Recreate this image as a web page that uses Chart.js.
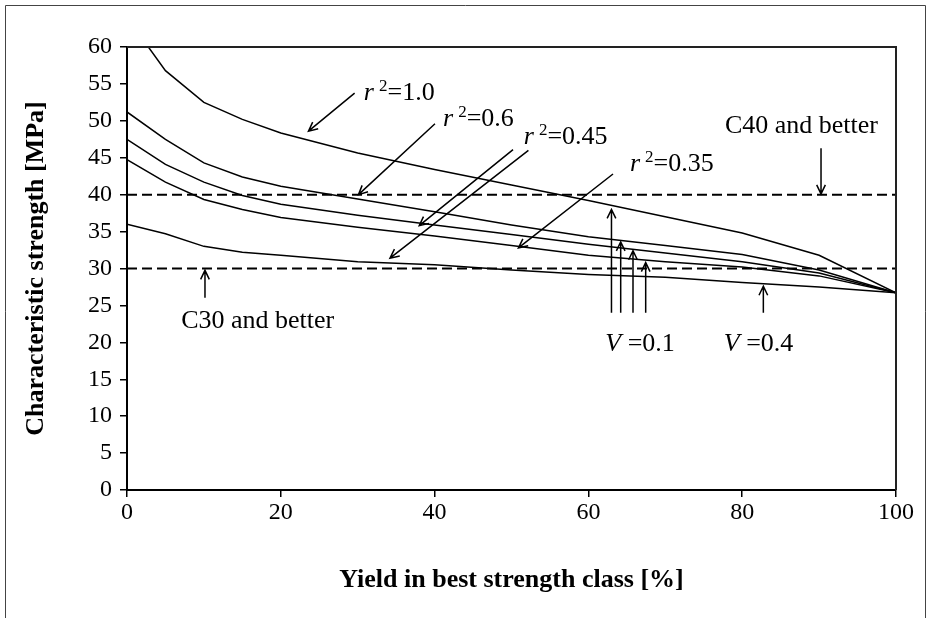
<!DOCTYPE html>
<html>
<head>
<meta charset="utf-8">
<script src="https://cdn.jsdelivr.net/npm/chart.js@4.4.1/dist/chart.umd.min.js"></script>
<style>
  html, body { margin: 0; padding: 0; background: #fff; }
</style>
</head>
<body>
<canvas id="strength-chart" width="931" height="618"></canvas>
<script>
// yield in best strength class [%]
const YIELD = [0, 5, 10, 15, 20, 30, 40, 50, 60, 70, 80, 90, 100];
// characteristic strength [MPa], V = 0.1 for the r^2 curves
const R2_100 = [64.0, 56.8, 52.5, 50.2, 48.35, 45.65, 43.4, 41.3, 39.2, 37.0, 34.8, 31.8, 26.7];
const R2_060 = [51.2, 47.5, 44.3, 42.4, 41.15, 39.4, 37.7, 35.9, 34.3, 33.1, 31.9, 29.8, 26.7];
const R2_045 = [47.5, 44.1, 41.7, 39.9, 38.7, 37.2, 35.9, 34.6, 33.3, 32.1, 30.9, 29.4, 26.7];
const R2_035 = [44.75, 41.7, 39.35, 38.0, 36.9, 35.6, 34.4, 33.1, 31.8, 30.9, 30.2, 29.0, 26.7];
const V_040 = [36.0, 34.7, 33.0, 32.2, 31.8, 30.9, 30.5, 29.8, 29.2, 28.8, 28.1, 27.5, 26.7];

// strength class limits
const LIMIT_X = [0, 100];
const C40 = [40, 40];
const C30 = [30, 30];

// annotation arrows, tail -> tip, in data units
const ARROWS = [
  [29.6, 53.75, 23.6, 48.6],   // r2=1.0
  [40.05, 49.6, 30.1, 40.0],   // r2=0.6
  [50.2, 46.1, 38.0, 35.8],    // r2=0.45
  [52.2, 46.0, 34.2, 31.4],
  [63.2, 42.8, 50.9, 32.8],    // r2=0.35
  [90.25, 46.3, 90.25, 40.1],  // C40
  [10.14, 26.05, 10.14, 29.75],// C30
  [63.0, 24.0, 63.0, 38.0],    // V=0.1
  [64.2, 24.0, 64.2, 33.6],
  [65.8, 24.0, 65.8, 32.4],
  [67.45, 24.0, 67.45, 30.8],
  [82.75, 24.0, 82.75, 27.6]   // V=0.4
];

// annotation texts: [style, text] pieces, anchor in data units
const NOTES = [
  { x: 30.8, y: 52.8, parts: [['i', 'r'], ['s', '2'], ['n', '=1.0']] },
  { x: 41.1, y: 49.25, parts: [['i', 'r'], ['s', '2'], ['n', '=0.6']] },
  { x: 51.6, y: 46.8, parts: [['i', 'r'], ['s', '2'], ['n', '=0.45']] },
  { x: 65.4, y: 43.2, parts: [['i', 'r'], ['s', '2'], ['n', '=0.35']] },
  { x: 87.7, y: 48.4, center: true, parts: [['n', 'C40 and better']] },
  { x: 17.0, y: 22.0, center: true, parts: [['n', 'C30 and better']] },
  { x: 62.2, y: 18.85, parts: [['i', 'V'], ['n', ' =0.1']] },
  { x: 77.6, y: 18.85, parts: [['i', 'V'], ['n', ' =0.4']] }
];

const SERIF = '"Liberation Serif", "Times New Roman", serif';

function drawArrow(ctx, x1, y1, x2, y2) {
  const a = Math.atan2(y2 - y1, x2 - x1);
  const h = 10, w = Math.PI / 7;
  ctx.beginPath();
  ctx.moveTo(x1, y1);
  ctx.lineTo(x2, y2);
  ctx.moveTo(x2 - h * Math.cos(a - w), y2 - h * Math.sin(a - w));
  ctx.lineTo(x2, y2);
  ctx.lineTo(x2 - h * Math.cos(a + w), y2 - h * Math.sin(a + w));
  ctx.stroke();
}

function setFont(ctx, style) {
  if (style === 's') ctx.font = '17px ' + SERIF;
  else ctx.font = (style === 'i' ? 'italic ' : '') + '26px ' + SERIF;
}

const framePlugin = {
  id: 'frame',
  beforeDraw(chart) {
    const ctx = chart.ctx;
    ctx.save();
    ctx.fillStyle = '#fff';
    ctx.fillRect(0, 0, chart.width, chart.height);
    ctx.strokeStyle = '#444';
    ctx.lineWidth = 1;
    ctx.beginPath();
    ctx.moveTo(5.5, chart.height);
    ctx.lineTo(5.5, 5.5);
    ctx.lineTo(925.5, 5.5);
    ctx.lineTo(925.5, chart.height);
    ctx.stroke();
    ctx.restore();
  },
  afterDatasetsDraw(chart) {
    const ctx = chart.ctx;
    const { left, top, right, bottom } = chart.chartArea;
    const xs = chart.scales.x, ys = chart.scales.y;
    ctx.save();
    // plot area box (top and right)
    ctx.strokeStyle = '#222';
    ctx.lineWidth = 2;
    ctx.beginPath();
    ctx.moveTo(left, top);
    ctx.lineTo(right, top);
    ctx.lineTo(right, bottom);
    ctx.stroke();

    ctx.strokeStyle = '#000';
    ctx.lineWidth = 1.5;
    ARROWS.forEach(([x1, y1, x2, y2]) => {
      drawArrow(ctx, xs.getPixelForValue(x1), ys.getPixelForValue(y1),
        xs.getPixelForValue(x2), ys.getPixelForValue(y2));
    });

    ctx.fillStyle = '#000';
    ctx.textBaseline = 'alphabetic';
    ctx.textAlign = 'left';
    NOTES.forEach(n => {
      let px = xs.getPixelForValue(n.x);
      const py = ys.getPixelForValue(n.y);
      if (n.center) {
        let w = 0;
        n.parts.forEach(([style, txt]) => { setFont(ctx, style); w += ctx.measureText(txt).width; });
        px -= w / 2;
      }
      n.parts.forEach(([style, txt]) => {
        setFont(ctx, style);
        if (style === 's') {
          px += 5;
          ctx.fillText(txt, px, py - 9);
        } else {
          ctx.fillText(txt, px, py);
        }
        px += ctx.measureText(txt).width;
      });
    });
    ctx.restore();
  }
};

const curve = (vals) => ({
  data: YIELD.map((x, i) => ({ x: x, y: vals[i] })),
  borderColor: '#000',
  borderWidth: 1.5,
  pointRadius: 0,
  tension: 0,
  fill: false
});

const limit = (vals) => ({
  data: LIMIT_X.map((x, i) => ({ x: x, y: vals[i] })),
  borderColor: '#000',
  borderWidth: 2,
  borderDash: [10, 5],
  pointRadius: 0,
  fill: false
});

const ctx = document.getElementById('strength-chart').getContext('2d');
new Chart(ctx, {
  type: 'line',
  data: {
    datasets: [
      curve(R2_100), curve(R2_060), curve(R2_045), curve(R2_035), curve(V_040),
      limit(C40), limit(C30)
    ]
  },
  options: {
    responsive: false,
    animation: false,
    layout: { padding: { top: 47, right: 35, left: 0, bottom: 0 } },
    plugins: { legend: { display: false }, tooltip: { enabled: false } },
    scales: {
      x: {
        type: 'linear',
        min: 0,
        max: 100,
        ticks: { stepSize: 20, color: '#000', font: { family: SERIF, size: 24 }, padding: 1, maxRotation: 0 },
        grid: { drawOnChartArea: false, color: '#000', tickLength: 7, lineWidth: 1.5 },
        border: { color: '#000', width: 2 },
        title: {
          display: true,
          text: 'Yield in best strength class [%]',
          color: '#000',
          font: { family: SERIF, size: 26, weight: 'bold' },
          padding: { top: 0, bottom: 22 }
        },
        afterFit(scale) { scale.height = 128; }
      },
      y: {
        min: 0,
        max: 60,
        ticks: { stepSize: 5, color: '#000', font: { family: SERIF, size: 24 }, padding: 8 },
        grid: { drawOnChartArea: false, color: '#000', tickLength: 7, lineWidth: 1.5 },
        border: { color: '#000', width: 2 },
        title: {
          display: true,
          text: 'Characteristic strength [MPa]',
          color: '#000',
          font: { family: SERIF, size: 26, weight: 'bold' },
          padding: { top: 21, bottom: 0 }
        },
        afterFit(scale) { scale.width = 127; }
      }
    }
  },
  plugins: [framePlugin]
});
</script>
</body>
</html>
